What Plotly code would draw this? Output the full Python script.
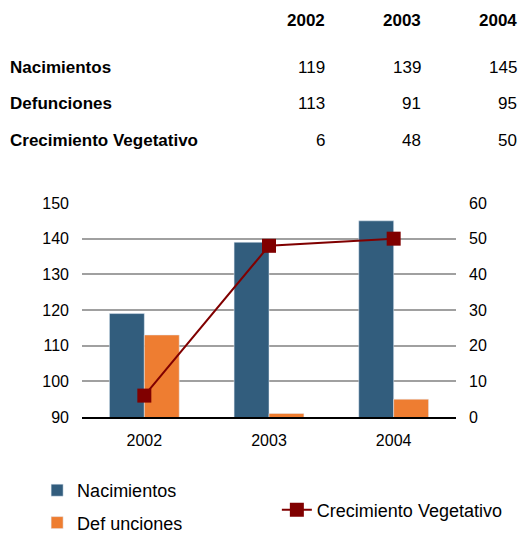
import plotly.graph_objects as go

years = ["2002", "2003", "2004"]
nacimientos = [119, 139, 145]
defunciones = [113, 91, 95]
crecimiento = [6, 48, 50]
row_labels = ["Nacimientos", "Defunciones", "Crecimiento Vegetativo"]

C_NAC = "#325D7D"
C_DEF = "#EE7D31"
C_CRE = "#800000"
FONT = "Liberation Sans, Arial, sans-serif"

fig = go.Figure()
fig.add_trace(go.Bar(x=years, y=nacimientos, name="Nacimientos", marker_color=C_NAC,
                     legend="legend", legendgroup="a"))
fig.add_trace(go.Bar(x=years, y=defunciones, name="Def unciones", marker_color=C_DEF,
                     legend="legend", legendgroup="b"))
fig.add_trace(go.Scatter(x=years, y=crecimiento, name="Crecimiento Vegetativo", yaxis="y2",
                         mode="lines+markers", line=dict(color=C_CRE, width=2),
                         marker=dict(symbol="square", size=14, color=C_CRE),
                         legend="legend2"))

# table
ann = []
col_x = [0.655, 0.912, 1.168]
row_y = [1.631, 1.463, 1.290]
tfont = dict(family=FONT, size=17, color="#000")
for j, yr in enumerate(years):
    ann.append(dict(text=f"<b>{yr}</b>", x=col_x[j], y=1.855, xref="paper", yref="paper",
                    xanchor="right", yanchor="middle", showarrow=False, font=tfont))
rows = [nacimientos, defunciones, crecimiento]
for i, lab in enumerate(row_labels):
    ann.append(dict(text=f"<b>{lab}</b>", x=-0.198, y=row_y[i], xref="paper", yref="paper",
                    xanchor="left", yanchor="middle", showarrow=False, font=tfont))
    for j, v in enumerate(rows[i]):
        ann.append(dict(text=str(v), x=col_x[j], y=row_y[i], xref="paper", yref="paper",
                        xanchor="right", yanchor="middle", showarrow=False, font=tfont))

fig.update_layout(
    width=521, height=533,
    margin=dict(l=82, r=65, t=203, b=116, autoexpand=False),
    paper_bgcolor="white", plot_bgcolor="white",
    font=dict(family=FONT, size=16, color="#000"),
    barmode="group", bargap=0.44, bargroupgap=0.0,
    xaxis=dict(showgrid=False, showline=True, linecolor="#000", linewidth=2,
               ticks="", tickfont=dict(size=16), ticklabelstandoff=8),
    yaxis=dict(range=[90, 150], dtick=10, showgrid=True, gridcolor="#A0A0A0", gridwidth=2,
               zeroline=False, ticks="", tickfont=dict(size=16), ticklabelstandoff=12),
    yaxis2=dict(range=[0, 60], dtick=10, overlaying="y", side="right", showgrid=False,
                zeroline=False, ticks="", tickfont=dict(size=16), ticklabelstandoff=12),
    legend=dict(x=-0.12, y=-0.257, xanchor="left", yanchor="top", orientation="v",
                font=dict(size=18), tracegroupgap=6, bgcolor="rgba(0,0,0,0)"),
    legend2=dict(x=0.521, y=-0.435, xanchor="left", yanchor="middle",
                 font=dict(size=18), bgcolor="rgba(0,0,0,0)"),
    annotations=ann,
)
fig.write_html("out.html", config={"displayModeBar": False},
               post_script="document.body.style.margin='0';document.body.style.overflow='hidden';")
